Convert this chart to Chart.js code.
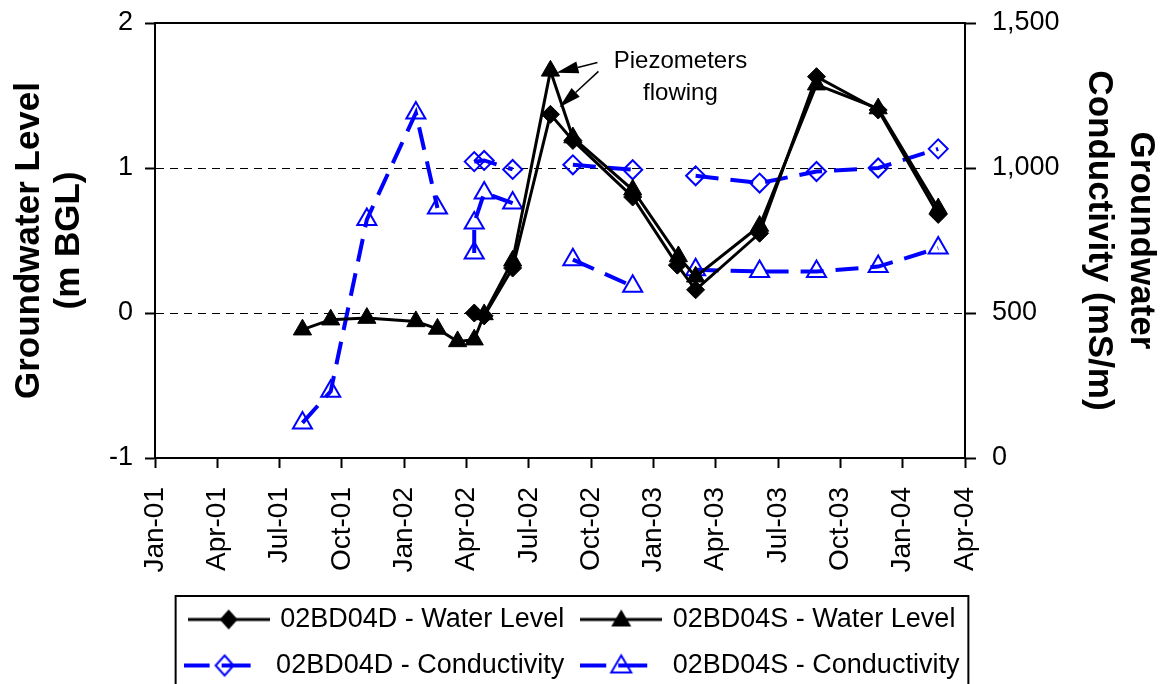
<!DOCTYPE html>
<html lang="en">
<head>
<meta charset="UTF-8" />
<title>Groundwater Level and Conductivity</title>
<style>
  body { margin: 0; background: #fff; }
  canvas { display: block; }
</style>
<script src="https://cdn.jsdelivr.net/npm/chart.js"></script>
</head>
<body>
<canvas id="gwChart" width="1166" height="684"></canvas>
<script>
// x values are months counted from Jan-01
const xTickLabels = ['Jan-01', 'Apr-01', 'Jul-01', 'Oct-01', 'Jan-02', 'Apr-02', 'Jul-02',
                     'Oct-02', 'Jan-03', 'Apr-03', 'Jul-03', 'Oct-03', 'Jan-04', 'Apr-04'];

// water level (m BGL), left axis
const levelDMonths = [15.37, 15.85, 17.22, 19.04, 20.12, 23.0, 25.15, 26.03, 29.11, 31.85, 34.82, 37.71];
const levelD       = [0.0, -0.02, 0.31, 1.37, 1.19, 0.80, 0.33, 0.16, 0.55, 1.63, 1.40, 0.68];

const levelSMonths = [7.1, 8.46, 10.2, 12.56, 13.6, 14.57, 15.37, 15.85, 17.22, 19.04, 20.12, 23.0, 25.2, 26.03, 29.11, 31.85, 34.82, 37.71];
const levelS       = [-0.115, -0.046, -0.035, -0.058, -0.11, -0.196, -0.184, -0.01, 0.36, 1.67, 1.21, 0.85, 0.39, 0.25, 0.60, 1.575, 1.41, 0.72];

// conductivity (mS/m), right axis -- null where no sample was taken
const condDMonths = [15.37, 15.85, 17.22, 19.04, 20.12, 23.0, 25.15, 26.03, 29.11, 31.85, 34.82, 37.71];
const condD       = [1022, 1026, 995, null, 1011, 994, null, 973, 948, 988, 1000, 1066];

const condSMonths = [7.1, 8.46, 10.2, 12.56, 13.6, 14.57, 15.37, 15.37, 15.85, 17.22, 19.04, 20.12, 23.0, 25.15, 26.03, 29.11, 31.85, 34.82, 37.71];
const condS       = [121, 230, 822, 1190, 862, null, 707, 810, 914, 879, null, 684, 592, null, 649, 643, 643, 660, 724];

const seriesNames = ['02BD04D - Water Level', '02BD04S - Water Level',
                     '02BD04D - Conductivity', '02BD04S - Conductivity'];

const noteLines = ['Piezometers', 'flowing'];
const noteMonth = 25.3;
const noteLevels = [1.735, 1.515];
const flowingMonth = 19.04;

const FONT = "'Liberation Sans', Arial, sans-serif";
const BLUE = '#0000ff';

function pairs(xs, ys) {
    return xs.map((x, i) => ({ x: x, y: ys[i] }));
}

// small canvases used as legend samples (line + marker)
function legendIcon(marker, color, filled, segs, lineWidth) {
    const c = document.createElement('canvas');
    c.width = 82; c.height = 26;
    const g = c.getContext('2d');
    g.strokeStyle = color;
    g.fillStyle = color;
    g.lineWidth = lineWidth;
    segs.forEach(s => {
        g.beginPath(); g.moveTo(s[0], 13); g.lineTo(s[1], 13); g.stroke();
    });
    g.lineWidth = 2;
    g.beginPath();
    if (marker === 'diamond') {
        g.moveTo(41, 3); g.lineTo(50, 13); g.lineTo(41, 23); g.lineTo(32, 13);
    } else {
        g.moveTo(41, 3); g.lineTo(51, 20); g.lineTo(31, 20);
    }
    g.closePath();
    if (filled) g.fill(); else g.stroke();
    return c;
}

const legendIcons = [
    legendIcon('diamond', '#000', true, [[0, 82]], 3),
    legendIcon('triangle', '#000', true, [[0, 82]], 3),
    legendIcon('diamond', BLUE, false, [[0, 26], [38, 67]], 4),
    legendIcon('triangle', BLUE, false, [[0, 26], [38, 67]], 4)
];

const extras = {
    id: 'extras',
    afterDraw(chart) {
        const { ctx, chartArea, scales, legend } = chart;
        ctx.save();
        ctx.strokeStyle = '#000';
        ctx.lineWidth = 2;
        // top edge of plot area
        ctx.beginPath();
        ctx.moveTo(chartArea.left - 1, chartArea.top);
        ctx.lineTo(chartArea.right + 1, chartArea.top);
        ctx.stroke();

        // legend frame
        const boxes = legend.legendHitBoxes;
        const left = Math.min(...boxes.map(b => b.left)) - 11;
        const right = Math.max(...boxes.map(b => b.left + b.width)) + 9;
        const top = boxes[0].top - 10;
        ctx.strokeRect(left, top, right - left, chart.height - top + 10);

        // "Piezometers flowing" note with two arrows
        const tx = scales.x.getPixelForValue(noteMonth);
        const ty = noteLevels.map(v => scales.y.getPixelForValue(v));
        ctx.fillStyle = '#000';
        ctx.font = '24px ' + FONT;
        ctx.textAlign = 'center';
        ctx.textBaseline = 'middle';
        noteLines.forEach((t, i) => ctx.fillText(t, tx, ty[i]));

        const sPt = chart.getDatasetMeta(1).data[levelSMonths.indexOf(flowingMonth)];
        const dPt = chart.getDatasetMeta(0).data[levelDMonths.indexOf(flowingMonth)];
        drawArrow(ctx, tx - 83, ty[0] + 1, sPt.x + 6, sPt.y + 2);
        drawArrow(ctx, tx - 82, ty[0] + 10, dPt.x + 9, dPt.y - 7);
        ctx.restore();
    }
};

function drawArrow(ctx, x0, y0, x1, y1) {
    const ang = Math.atan2(y1 - y0, x1 - x0);
    const head = 22, half = 6;
    const bx = x1 - Math.cos(ang) * head, by = y1 - Math.sin(ang) * head;
    ctx.lineWidth = 1.5;
    ctx.beginPath(); ctx.moveTo(x0, y0); ctx.lineTo(bx, by); ctx.stroke();
    ctx.beginPath();
    ctx.moveTo(x1, y1);
    ctx.lineTo(bx + Math.sin(ang) * half, by - Math.cos(ang) * half);
    ctx.lineTo(bx - Math.sin(ang) * half, by + Math.cos(ang) * half);
    ctx.closePath();
    ctx.fill();
}

new Chart(document.getElementById('gwChart'), {
    type: 'line',
    data: {
        datasets: [
            { label: seriesNames[0], data: pairs(levelDMonths, levelD), yAxisID: 'y',
              borderColor: '#000', backgroundColor: '#000', borderWidth: 3,
              pointStyle: 'rectRot', pointRadius: 9, pointBorderWidth: 1 },
            { label: seriesNames[1], data: pairs(levelSMonths, levelS), yAxisID: 'y',
              borderColor: '#000', backgroundColor: '#000', borderWidth: 3,
              pointStyle: 'triangle', pointRadius: 10.5, pointBorderWidth: 1 },
            { label: seriesNames[2], data: pairs(condDMonths, condD), yAxisID: 'y1',
              borderColor: BLUE, backgroundColor: 'rgba(0,0,0,0)', borderWidth: 4, borderDash: [23, 12],
              pointStyle: 'rectRot', pointRadius: 9.5, pointBorderWidth: 2 },
            { label: seriesNames[3], data: pairs(condSMonths, condS), yAxisID: 'y1',
              borderColor: BLUE, backgroundColor: 'rgba(0,0,0,0)', borderWidth: 4, borderDash: [23, 12],
              pointStyle: 'triangle', pointRadius: 11, pointBorderWidth: 2 }
        ]
    },
    options: {
        responsive: false,
        animation: false,
        spanGaps: false,
        layout: { padding: { top: 23, left: 0, right: 20, bottom: -5 } },
        plugins: {
            tooltip: { enabled: false },
            legend: {
                position: 'bottom',
                labels: {
                    usePointStyle: true,
                    pointStyleWidth: 76,
                    padding: 19,
                    color: '#000',
                    font: { family: FONT, size: 27 },
                    generateLabels: chart => chart.data.datasets.map((ds, i) => ({
                        text: ds.label, pointStyle: legendIcons[i], datasetIndex: i,
                        fillStyle: '#000', strokeStyle: 'rgba(0,0,0,0)', lineWidth: 0, hidden: false
                    }))
                }
            }
        },
        scales: {
            x: {
                type: 'linear', min: 0, max: 39,
                ticks: {
                    stepSize: 3, autoSkip: false, maxRotation: 90, minRotation: 90,
                    padding: 19, color: '#000', font: { family: FONT, size: 28 },
                    callback: v => xTickLabels[Math.round(v / 3)]
                },
                grid: { drawOnChartArea: false, tickLength: 10, tickColor: '#000', tickWidth: 2 },
                border: { color: '#000', width: 2 },
                afterFit: s => { s.height = 129; }
            },
            y: {
                position: 'left', min: -1, max: 2,
                ticks: { stepSize: 1, padding: 0, color: '#000', font: { family: FONT, size: 27 } },
                grid: {
                    color: c => (c.tick && (c.tick.value === 0 || c.tick.value === 1)) ? '#000' : 'rgba(0,0,0,0)',
                    lineWidth: 1, tickLength: 22, tickColor: '#000', tickWidth: 2,
                    // only the 10px next to the axis is visible as a tick mark
                    tickBorderDash: [10, 100], tickBorderDashOffset: 98
                },
                border: { color: '#000', width: 2, dash: [8, 6] },
                title: {
                    display: true, text: ['Groundwater Level', '(m BGL)'], color: '#000',
                    font: { family: FONT, size: 35, weight: 'bold', lineHeight: 1.15 },
                    padding: { top: 9, bottom: 0 }
                },
                afterFit: s => { s.width = 155; }
            },
            y1: {
                position: 'right', min: 0, max: 1500,
                ticks: {
                    stepSize: 500, padding: 0, color: '#000', font: { family: FONT, size: 27 },
                    callback: v => v.toLocaleString('en-US')
                },
                grid: {
                    drawOnChartArea: false, tickLength: 27, tickColor: '#000', tickWidth: 2,
                    tickBorderDash: [10, 100]
                },
                border: { color: '#000', width: 2 },
                title: {
                    display: true, text: ['Groundwater', 'Conductivity (mS/m)'], color: '#000',
                    font: { family: FONT, size: 35, weight: 'bold', lineHeight: 1.2 },
                    padding: { top: -16, bottom: 0 }
                },
                afterFit: s => { s.width = 181; }
            }
        }
    },
    plugins: [extras]
});
</script>
</body>
</html>
